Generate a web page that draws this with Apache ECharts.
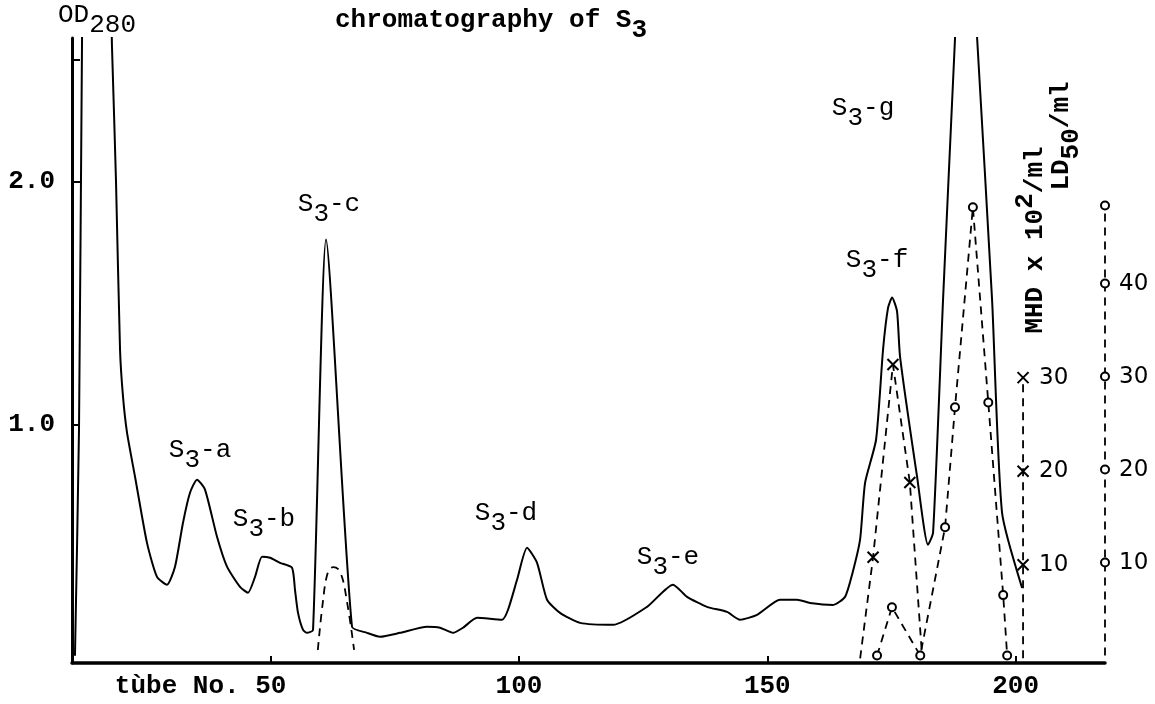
<!DOCTYPE html>
<html>
<head>
<meta charset="utf-8">
<script src="https://cdn.jsdelivr.net/npm/echarts@6/dist/echarts.min.js"></script>
<style>
  html, body { margin: 0; background: #fff; }
  #main { width: 1155px; height: 704px; }
</style>
</head>
<body>
<div id="main"></div>
<script>
// OD280 trace (tube number, absorbance)
var tubeOD = [10.6, 11.41, 12.01, 12.42, 17.05, 18.05, 18.86, 19.67, 20.27, 21.08, 22.69, 25.1, 27.12, 29.13,
  30.74, 32.35, 33.76, 35.17, 36.78, 39.2, 41.21, 43.83, 45.44, 46.85, 48.26, 49.87, 51.88, 54.3, 54.9,
  55.51, 56.52, 57.32, 58.53, 61.15, 66.38, 69.4, 72.02, 76.05, 81.49, 84.1, 86.72, 88.73, 91.55, 96.59,
  97.8, 99.61, 101.62, 103.64, 105.65, 108.27, 112.3, 118.94, 125.79, 131.02, 133.84, 137.87, 141.9,
  144.51, 147.94, 152.57, 155.99, 158.61, 163.24, 165.66, 167.07, 168.68, 169.69, 171.9, 173.31, 174.32,
  175.13, 176.13, 176.73, 180.16, 182.37, 183.38, 185.39, 187.81, 189.82, 192.24, 195.26, 197.27, 201.3];
var od = [0.05, 0.98, 2.555, 3.2, 3.2, 2.555, 2.0, 1.309, 1.115, 0.967, 0.786, 0.514, 0.374, 0.342,
  0.416, 0.597, 0.72, 0.774, 0.733, 0.539, 0.416, 0.333, 0.309, 0.374, 0.457, 0.453, 0.432, 0.412, 0.321,
  0.226, 0.156, 0.144, 0.156, 1.761, 0.169, 0.144, 0.128, 0.144, 0.169, 0.165, 0.144, 0.165, 0.206, 0.198,
  0.239, 0.362, 0.494, 0.432, 0.28, 0.226, 0.185, 0.177, 0.251, 0.342, 0.292, 0.251, 0.23,
  0.198, 0.218, 0.28, 0.28, 0.267, 0.259, 0.292, 0.383, 0.527, 0.761, 0.938, 1.309, 1.481,
  1.523, 1.465, 1.28, 0.786, 0.506, 0.556, 1.514, 2.593, 3.469, 2.593, 1.514, 0.638, 0.329];

// MHD x 10^2/ml (crosses)
var tubeMHD = [168.7, 171.3, 175.3, 178.7, 181.2];
var mhd = [0, 10.8, 31.4, 18.8, 0];

// LD50/ml (circles)
var tubeLD = [172.1, 175.1, 180.8, 185.8, 187.8, 191.4, 194.5, 197.5, 198.3];
var ld = [0, 5.2, 0, 13.8, 26.7, 48.2, 27.2, 6.5, 0];

// dashed bump under S3-c
var tubeBump = [59.5, 60.5, 61.5, 62.6, 64.0, 65.4, 66.8];
var bump = [0.6, 5.7, 8.9, 9.5, 9.0, 5.7, 0.6];

// peak labels
var peakNames = ['a', 'b', 'c', 'd', 'e', 'f', 'g'];
var peakTube = [35.78, 48.66, 61.75, 97.39, 130.01, 172.1, 169.28];
var peakOD = [0.875, 0.59, 1.885, 0.615, 0.435, 1.655, 2.28];

// ticks
var tubeTicks = [50, 100, 150, 200];
var odTicks = [1.0, 2.0, 2.5];
var odLabels = [1.0, 2.0];
var mhdTicks = [0, 10, 20, 30];
var ldTicks = [0, 10, 20, 30, 40, 48.4];
var mhdAxisTube = 201.5;
var ldAxisTube = 218;

var mono = 'Liberation Mono';
var cross = 'path://M0,0L10,10M10,0L0,10';

function zip(a, b) {
  return a.map(function (v, i) { return [v, b[i]]; });
}

var myChart = echarts.init(document.getElementById('main'));

var subRich = {
  m: { fontFamily: mono, fontSize: 26, color: '#000', padding: [0, 0, 10, 0] },
  s: { fontFamily: mono, fontSize: 26, color: '#000', padding: [10, 0, 0, 0] }
};

var dashed = { color: '#000', width: 1.8, type: [8, 6] };

var option = {
  animation: false,
  backgroundColor: '#fff',
  title: {
    text: '{m|chromatography of S}{s|3}',
    left: 330,
    top: 2,
    textStyle: { rich: subRich }
  },
  grid: { left: 72, right: 50, top: 38, bottom: 41, containLabel: false, outerBoundsMode: 'none' },
  xAxis: {
    type: 'value',
    min: 10,
    max: 218,
    splitLine: { show: false },
    axisLine: { onZero: false, lineStyle: { color: '#000', width: 3.5 } },
    axisTick: { inside: true, length: 7, customValues: tubeTicks, lineStyle: { color: '#000', width: 2 } },
    axisLabel: {
      customValues: tubeTicks,
      margin: 10,
      color: '#000',
      fontFamily: mono,
      fontSize: 26,
      fontWeight: 'bold',
      formatter: function (v) {
        return v === 50 ? '{n|tùbe No. }{v|50}{p|}' : '{v|' + v + '}';
      },
      rich: {
        n: { fontFamily: mono, fontSize: 26, fontWeight: 'bold', color: '#000' },
        v: { fontFamily: mono, fontSize: 26, fontWeight: 'bold', color: '#000' },
        p: { width: 140 }
      }
    }
  },
  yAxis: [
    {
      type: 'value',
      min: 0.02,
      max: 2.59,
      splitLine: { show: false },
      axisLine: { show: true, onZero: false, lineStyle: { color: '#000', width: 3 } },
      axisTick: { inside: true, length: 8, customValues: odTicks, lineStyle: { color: '#000', width: 2 } },
      axisLabel: {
        customValues: odLabels,
        margin: 17,
        color: '#000',
        fontFamily: mono,
        fontSize: 26,
        fontWeight: 'bold',
        formatter: function (v) { return v.toFixed(1); }
      },
      name: '{m|OD}{s|280}',
      nameLocation: 'end',
      nameGap: 0,
      nameTextStyle: { padding: [0, 0, 0, 50], rich: subRich }
    },
    {
      type: 'value',
      position: 'right',
      offset: -82,
      min: -0.5,
      max: 66.3,
      splitLine: { show: false },
      axisLine: { show: false },
      axisTick: { show: false },
      axisLabel: {
        customValues: [10, 20, 30],
        margin: 16,
        color: '#000',
        fontFamily: 'DejaVu Sans',
        fontSize: 23
      }
    },
    {
      type: 'value',
      position: 'right',
      offset: 0,
      min: -0.8,
      max: 66.4,
      splitLine: { show: false },
      axisLine: { show: false },
      axisTick: { show: false },
      axisLabel: {
        customValues: [10, 20, 30, 40],
        margin: 14,
        color: '#000',
        fontFamily: 'DejaVu Sans',
        fontSize: 23
      }
    }
  ],
  graphic: [
    {
      type: 'text',
      x: 1030,
      y: 240,
      rotation: Math.PI / 2,
      style: {
        text: '{m|MHD x 10}{p|2}{m|/ml}',
        align: 'center',
        verticalAlign: 'middle',
        rich: {
          m: { fontFamily: mono, fontSize: 26, fontWeight: 'bold', fill: '#000', padding: [10, 0, 0, 0] },
          p: { fontFamily: mono, fontSize: 26, fontWeight: 'bold', fill: '#000', padding: [0, 0, 10, 0] }
        }
      }
    },
    {
      type: 'text',
      x: 1066,
      y: 136,
      rotation: Math.PI / 2,
      style: {
        text: '{m|LD}{s|50}{m|/ml}',
        align: 'center',
        verticalAlign: 'middle',
        rich: {
          m: { fontFamily: mono, fontSize: 26, fontWeight: 'bold', fill: '#000', padding: [0, 0, 10, 0] },
          s: { fontFamily: mono, fontSize: 26, fontWeight: 'bold', fill: '#000', padding: [10, 0, 0, 0] }
        }
      }
    }
  ],
  series: [
    {
      name: 'OD280',
      type: 'line',
      yAxisIndex: 0,
      data: zip(tubeOD, od),
      showSymbol: false,
      smooth: 0.2,
      clip: true,
      lineStyle: { color: '#000', width: 2 },
      markPoint: {
        symbol: 'circle',
        symbolSize: 1,
        itemStyle: { color: 'rgba(0,0,0,0)' },
        label: {
          show: true,
          position: 'inside',
          formatter: function (p) { return '{m|S}{s|3}{m|-' + p.name + '}'; },
          rich: subRich
        },
        data: peakNames.map(function (n, i) {
          return { name: n, coord: [peakTube[i], peakOD[i]] };
        })
      }
    },
    {
      name: 'S3-c activity',
      type: 'line',
      yAxisIndex: 2,
      data: zip(tubeBump, bump),
      smooth: 0.4,
      showSymbol: false,
      lineStyle: dashed
    },
    {
      name: 'MHD',
      type: 'line',
      yAxisIndex: 1,
      data: zip(tubeMHD, mhd),
      symbol: function (v) { return v[1] > 0 ? cross : 'none'; },
      symbolSize: 11,
      itemStyle: { color: 'none', borderColor: '#000', borderWidth: 2 },
      lineStyle: dashed
    },
    {
      name: 'LD50',
      type: 'line',
      yAxisIndex: 2,
      data: zip(tubeLD, ld),
      symbol: 'emptyCircle',
      symbolSize: 8,
      itemStyle: { color: '#000', borderWidth: 2 },
      lineStyle: dashed
    },
    {
      name: 'MHD scale',
      type: 'line',
      yAxisIndex: 1,
      clip: false,
      data: mhdTicks.map(function (v) { return [mhdAxisTube, v]; }),
      symbol: function (v) { return v[1] > 0 ? cross : 'none'; },
      symbolSize: 11,
      itemStyle: { color: 'none', borderColor: '#000', borderWidth: 2 },
      lineStyle: dashed
    },
    {
      name: 'LD50 scale',
      type: 'line',
      yAxisIndex: 2,
      clip: false,
      data: ldTicks.map(function (v) { return [ldAxisTube, v]; }),
      symbol: function (v) { return v[1] > 0 ? 'emptyCircle' : 'none'; },
      symbolSize: 8,
      itemStyle: { color: '#000', borderWidth: 2 },
      lineStyle: dashed
    }
  ]
};

myChart.setOption(option);
</script>
</body>
</html>
